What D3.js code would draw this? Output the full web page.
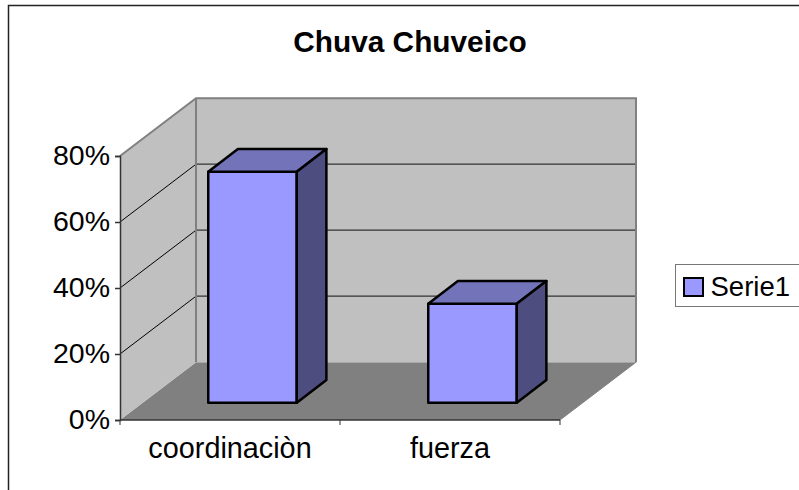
<!DOCTYPE html>
<html><head><meta charset="utf-8">
<script src="https://cdn.jsdelivr.net/npm/d3@7"></script>
<style>html,body{margin:0;padding:0;background:#fff}svg{display:block}text{font-family:"Liberation Sans",Arial,sans-serif;fill:#000}</style>
</head><body><svg id="c" width="799" height="490"></svg>
<script>
const categories = ["coordinaciòn", "fuerza"];
const seriesName = "Serie1";
const seriesValues = [70, 30];
const yTicks = [0, 20, 40, 60, 80];
const title = "Chuva Chuveico";

const svg = d3.select("#c");
const x = d3.scaleBand().domain(categories).range([120, 560]);
const y = d3.scaleLinear().domain([0, 80]).range([420, 156]);
const depthX = d3.scaleLinear().domain([0, 1]).range([0, 76]);
const depthY = d3.scaleLinear().domain([0, 1]).range([0, -57.8]);
const P = (px, py, d) => [px + depthX(d), py + depthY(d)];
const poly = (pts, fill, stroke, sw) => svg.append("polygon")
  .attr("points", pts.map(p => p.join(",")).join(" "))
  .attr("fill", fill).attr("stroke", stroke || "none").attr("stroke-width", sw || 0).attr("stroke-linejoin", "round");

// chart frame
svg.append("path").attr("d", "M8.5,490V5.5H799").attr("fill", "none").attr("stroke", "#222").attr("stroke-width", 1.5);

const [x0, x1] = x.range(), y0 = y(0), yT = y(80);
// floor, back wall, side wall
poly([P(x0, y0, 0), P(x1, y0, 0), P(x1, y0, 1), P(x0, y0, 1)], "#808080");
poly([P(x0, y0, 1), P(x1, y0, 1), P(x1, yT, 1), P(x0, yT, 1)], "#c0c0c0");
poly([P(x0, y0, 0), P(x0, y0, 1), P(x0, yT, 1), P(x0, yT, 0)], "#c0c0c0");

// gridlines
yTicks.filter(t => t > 0 && t < 80).forEach(t => {
  const a = P(x0, y(t), 0), b = P(x0, y(t), 1), c = P(x1, y(t), 1);
  svg.append("path").attr("d", d3.line()([a, b])).attr("fill", "none").attr("stroke", "#000").attr("stroke-width", 1);
  svg.append("path").attr("d", d3.line()([b, c])).attr("fill", "none").attr("stroke", "#333").attr("stroke-width", 1.3);
});
// wall edges
const edge = (pts) => svg.append("path").attr("d", d3.line()(pts)).attr("fill", "none").attr("stroke", "#808080").attr("stroke-width", 2);
edge([P(x0, y0, 1), P(x0, yT, 1)]);
edge([P(x0, yT, 0), P(x0, yT, 1), P(x1, yT, 1), P(x1, y0, 1)]);
svg.append("path").attr("d", d3.line()([P(x1, y0, 1), P(x1, y0, 0)])).attr("fill", "none").attr("stroke", "#808080").attr("stroke-width", 1);

// bars
const barW = 88.5, d0 = 0.3, d1 = 0.69;
categories.forEach((c, i) => {
  const xl = x(c) + (x.bandwidth() - barW) / 2 - 0.3, xr = xl + barW, yt = y(seriesValues[i]);
  const sw = 2.5;
  poly([P(xl, y0, d0), P(xr, y0, d0), P(xr, yt, d0), P(xl, yt, d0)], "#9999ff", "#000", sw);
  poly([P(xl, yt, d0), P(xr, yt, d0), P(xr, yt, d1), P(xl, yt, d1)], "#7373b9", "#000", sw);
  poly([P(xr, y0, d0), P(xr, y0, d1), P(xr, yt, d1), P(xr, yt, d0)], "#4d4d7f", "#000", sw);
});

// axes
const fmt = d => d + "%";
const ga = svg.append("g").attr("transform", "translate(120,0)").call(d3.axisLeft(y).tickValues(yTicks).tickFormat(fmt).tickSize(5).tickPadding(5));
ga.selectAll("text").attr("font-size", 28.5).attr("dy", "0.29em").style("font-family", '"Liberation Sans"');
ga.selectAll("line,path").attr("stroke", "#333").attr("stroke-width", 1.5);
const gb = svg.append("g").attr("transform", "translate(0,420)").call(d3.axisBottom(x).tickSize(0).tickPadding(18));
gb.selectAll("text").attr("font-size", 28.8).style("font-family", '"Liberation Sans"');
gb.select("path").remove();
gb.selectAll("line").remove();
svg.append("path").attr("d", d3.line()([[x0, y0], [x1, y0]])).attr("stroke", "#333").attr("stroke-width", 1.5);
[x0, x0 + x.step(), x1].forEach(t => svg.append("line").attr("x1", t).attr("x2", t).attr("y1", y0).attr("y2", y0 + 5).attr("stroke", "#333").attr("stroke-width", 1));

// title
svg.append("text").attr("x", 410).attr("y", 51.5).attr("text-anchor", "middle").attr("font-size", 29.8).attr("font-weight", "bold").text(title);

// legend
svg.append("rect").attr("x", 675.5).attr("y", 264.5).attr("width", 130).attr("height", 42).attr("fill", "#fff").attr("stroke", "#777").attr("stroke-width", 1);
svg.append("rect").attr("x", 684).attr("y", 278).attr("width", 19).attr("height", 18).attr("fill", "#9999ff").attr("stroke", "#000").attr("stroke-width", 2);
svg.append("text").attr("x", 710.5).attr("y", 295.5).attr("font-size", 27.5).text(seriesName);
</script></body></html>
